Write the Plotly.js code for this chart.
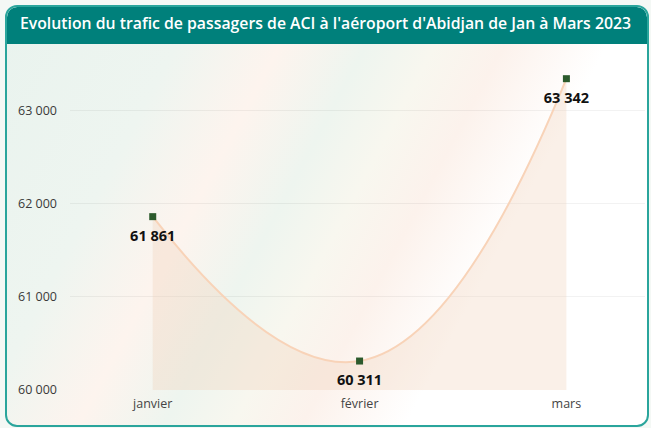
<!DOCTYPE html>
<html>
<head>
<meta charset="utf-8">
<script src="https://cdn.plot.ly/plotly-3.0.1.min.js"></script>
<style>
  html, body { margin: 0; padding: 0; width: 651px; height: 428px; overflow: hidden; background: #f4f8f5; }
  #card {
    position: absolute; left: 5px; top: 5px; width: 640px; height: 418px;
    border: 2px solid #2aa59c; border-radius: 12px; overflow: hidden;
    background: linear-gradient(118deg, #e9f3ee 0%, #eef5f0 22%, #fdf4ee 34%, #eef5ef 44%, #f8f7ef 52%, #fcf2ec 60%, #ffffff 72%, #ffffff 100%);
  }
  #bar {
    position: absolute; left: 0; top: 0; width: 100%; height: 37px;
    background: #00807b; border-radius: 10px 10px 0 0;
  }
  #chart { position: absolute; left: 0; top: 0; width: 651px; height: 428px; }
</style>
</head>
<body>
<div id="card"><div id="bar"></div></div>
<div id="chart"></div>
<script>
const months = ["janvier", "février", "mars"];
const passengers = [61861, 60311, 63342];
const yTicks = [60000, 61000, 62000, 63000];
const chartTitle = "Evolution du trafic de passagers de ACI à l'aéroport d'Abidjan de Jan à Mars 2023";

const lineTrace = {
  x: months,
  y: passengers,
  type: "scatter",
  mode: "lines+markers",
  line: { shape: "spline", smoothing: 1.3, color: "#f8d3b8", width: 2 },
  fill: "tozeroy",
  fillcolor: "rgba(240, 205, 180, 0.3)",
  marker: { symbol: "square", size: 7, color: "#2c5a2c" },
  hoverinfo: "skip",
  cliponaxis: false
};

const labelTrace = {
  x: months,
  y: passengers,
  type: "scatter",
  mode: "markers+text",
  marker: { size: 20, color: "rgba(0,0,0,0)" },
  texttemplate: "%{y:,d}",
  textposition: "bottom center",
  textfont: { family: "Open Sans, DejaVu Sans, sans-serif", size: 14.5, color: "#111111", weight: "bold" },
  hoverinfo: "skip",
  cliponaxis: false
};

const layout = {
  width: 651, height: 428,
  margin: { l: 70, r: 6, t: 50, b: 38 },
  paper_bgcolor: "rgba(0,0,0,0)",
  plot_bgcolor: "rgba(0,0,0,0)",
  separators: ". ",
  showlegend: false,
  title: {
    text: chartTitle,
    font: { family: "Open Sans, sans-serif", size: 15.8, color: "#ffffff", weight: 600 },
    xref: "container", yref: "container",
    x: 0.5, xanchor: "center", y: 0.945, yanchor: "middle"
  },
  xaxis: {
    type: "category",
    range: [-0.4, 2.38],
    showgrid: false, zeroline: false, showline: false, ticks: "",
    ticklabelstandoff: 4,
    tickfont: { family: "Open Sans, sans-serif", size: 12.5, color: "#444444" },
    fixedrange: true
  },
  yaxis: {
    range: [60000, 63650],
    tickvals: yTicks,
    tickformat: ",d",
    showgrid: true, gridcolor: "rgba(0,0,0,0.05)", gridwidth: 1,
    zeroline: false, showline: false, ticks: "",
    ticklabelstandoff: 12,
    tickfont: { family: "Open Sans, sans-serif", size: 12.5, color: "#3a3a3a" },
    fixedrange: true
  }
};

Plotly.newPlot("chart", [lineTrace, labelTrace], layout, { displayModeBar: false, staticPlot: true });
</script>
</body>
</html>
